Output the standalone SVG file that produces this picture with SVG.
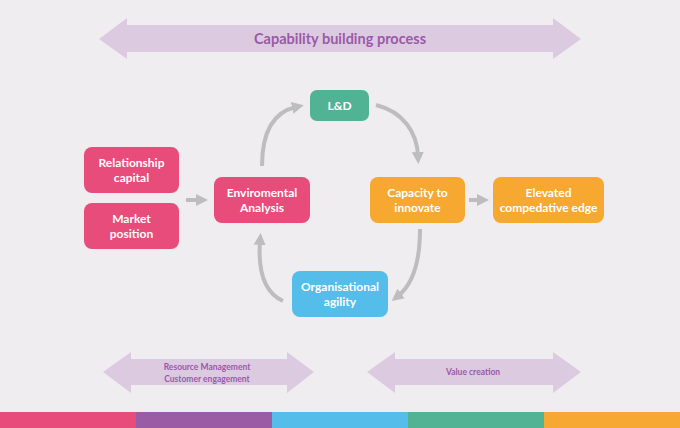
<svg xmlns="http://www.w3.org/2000/svg" width="680" height="428" viewBox="0 0 680 428">
<style>
.bg{fill:#efedf0}
.band{fill:#dccbe0}
.bandtxt{font-family:Lato,"Open Sans",sans-serif;font-weight:700;fill:#9b59a8;text-anchor:middle}
.node text{font-family:Lato,"Open Sans",sans-serif;font-weight:700;font-size:12px;fill:#ffffff;text-anchor:middle}
.pink{fill:#e84c7a}
.green{fill:#52b394}
.orange{fill:#f6a830}
.blue{fill:#55bde9}
.conn{fill:none;stroke:#bdbcbf;stroke-width:4}
</style>
<defs>
<marker id="ah" markerUnits="userSpaceOnUse" markerWidth="14" markerHeight="14" viewBox="0 0 14 14" refX="4" refY="7" orient="auto">
<path d="M0,1 L12,7 L0,13 Z" fill="#bdbcbf"/>
</marker>
</defs>
<rect class="bg" x="0" y="0" width="680" height="428"/>

<g id="band-top">
<polygon class="band" points="99,39 127,18 127,25 553,25 553,18 581,39 553,59 553,52 127,52 127,59"/>
<text class="bandtxt" x="340" y="44" font-size="14.5">Capability building process</text>
</g>
<g id="band-left">
<polygon class="band" points="103,372 131,352 131,359 287,359 287,352 314,372 287,393 287,385 131,385 131,393"/>
<text class="bandtxt" x="207" y="370" font-size="8.5">Resource Management</text>
<text class="bandtxt" x="207" y="381.5" font-size="8.5">Customer engagement</text>
</g>
<g id="band-right">
<polygon class="band" points="367,372 395,352 395,359 553,359 553,352 581,372 553,393 553,385 395,385 395,393"/>
<text class="bandtxt" x="473" y="375" font-size="8.5">Value creation</text>
</g>

<g id="connectors">
<path class="conn" d="M186,200 L200,200" marker-end="url(#ah)"/>
<path class="conn" d="M469,200 L481,200" marker-end="url(#ah)"/>
<path class="conn" d="M262,166 C262,130 274,112 296,107" marker-end="url(#ah)"/>
<path class="conn" d="M376,105 C404,112 417,133 418,156" marker-end="url(#ah)"/>
<path class="conn" d="M420,229 C420,262 412,285 398,296" marker-end="url(#ah)"/>
<path class="conn" d="M283,301 C263,292 258,268 260,241" marker-end="url(#ah)"/>
</g>

<g id="node-relationship" class="node">
<rect class="pink" x="84" y="147" width="95" height="46" rx="8"/>
<text x="131.5" y="167">Relationship</text>
<text x="131.5" y="182">capital</text>
</g>
<g id="node-market" class="node">
<rect class="pink" x="84" y="203" width="95" height="46" rx="8"/>
<text x="131.5" y="223">Market</text>
<text x="131.5" y="238">position</text>
</g>
<g id="node-env" class="node">
<rect class="pink" x="214" y="177" width="96" height="46" rx="8"/>
<text x="262" y="197">Enviromental</text>
<text x="262" y="212">Analysis</text>
</g>
<g id="node-ld" class="node">
<rect class="green" x="310" y="90" width="59" height="31" rx="7"/>
<text x="339.5" y="110">L&amp;D</text>
</g>
<g id="node-capacity" class="node">
<rect class="orange" x="370" y="177" width="95" height="46" rx="8"/>
<text x="417.5" y="197">Capacity to</text>
<text x="417.5" y="212">innovate</text>
</g>
<g id="node-elevated" class="node">
<rect class="orange" x="493" y="177" width="111" height="46" rx="8"/>
<text x="548.5" y="197">Elevated</text>
<text x="548.5" y="212">compedative edge</text>
</g>
<g id="node-agility" class="node">
<rect class="blue" x="292" y="271" width="96" height="46" rx="8"/>
<text x="340" y="291">Organisational</text>
<text x="340" y="306">agility</text>
</g>

<g id="footer">
<rect x="0" y="412" width="136" height="16" fill="#e84c7a"/>
<rect x="136" y="412" width="136" height="16" fill="#9b5ca6"/>
<rect x="272" y="412" width="136" height="16" fill="#55bde9"/>
<rect x="408" y="412" width="136" height="16" fill="#52b394"/>
<rect x="544" y="412" width="136" height="16" fill="#f6a832"/>
</g>
</svg>
